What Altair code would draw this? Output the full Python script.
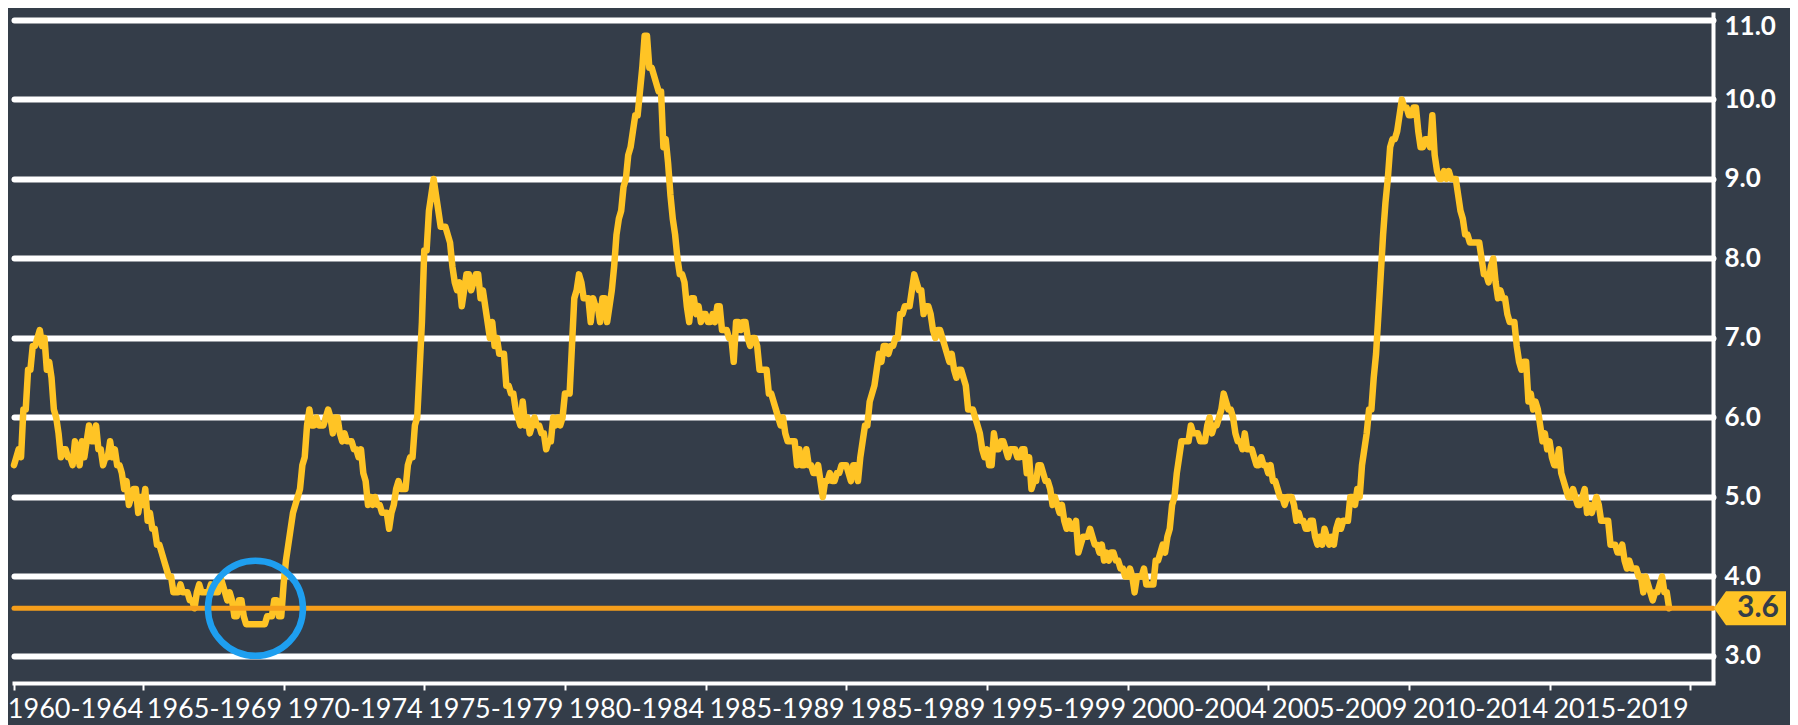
import altair as alt
import pandas as pd

# ---------------- data (US unemployment rate, %, monthly) ----------------
# June 1960 .. December 1969
rate_1960s = [5.4, 5.5, 5.6, 5.5, 6.1, 6.1, 6.6,
              6.6, 6.9, 6.9, 7.0, 7.1, 6.9, 7.0, 6.6, 6.7, 6.5, 6.1, 6.0,
              5.8, 5.5, 5.6, 5.6, 5.5, 5.5, 5.4, 5.7, 5.6, 5.4, 5.7, 5.5,
              5.7, 5.9, 5.7, 5.7, 5.9, 5.6, 5.6, 5.4, 5.5, 5.5, 5.7, 5.5,
              5.6, 5.4, 5.4, 5.3, 5.1, 5.2, 4.9, 5.0, 5.1, 5.1, 4.8, 5.0,
              4.9, 5.1, 4.7, 4.8, 4.6, 4.6, 4.4, 4.4, 4.3, 4.2, 4.1, 4.0,
              4.0, 3.8, 3.8, 3.8, 3.9, 3.8, 3.8, 3.8, 3.7, 3.7, 3.6, 3.8,
              3.9, 3.8, 3.8, 3.8, 3.8, 3.9, 3.8, 3.8, 3.8, 4.0, 3.9, 3.8,
              3.7, 3.8, 3.7, 3.5, 3.5, 3.7, 3.7, 3.5, 3.4, 3.4, 3.4, 3.4,
              3.4, 3.4, 3.4, 3.4, 3.4, 3.5, 3.5, 3.5, 3.7, 3.7, 3.5, 3.5]
rate_1970s = [3.9, 4.2, 4.4, 4.6, 4.8, 4.9, 5.0, 5.1, 5.4, 5.5, 5.9, 6.1,
              5.9, 5.9, 6.0, 5.9, 5.9, 5.9, 6.0, 6.1, 6.0, 5.8, 6.0, 6.0,
              5.8, 5.7, 5.8, 5.7, 5.7, 5.7, 5.6, 5.6, 5.5, 5.6, 5.3, 5.2,
              4.9, 5.0, 4.9, 5.0, 4.9, 4.9, 4.8, 4.8, 4.8, 4.6, 4.8, 4.9,
              5.1, 5.2, 5.1, 5.1, 5.1, 5.4, 5.5, 5.5, 5.9, 6.0, 6.6, 7.2,
              8.1, 8.1, 8.6, 8.8, 9.0, 8.8, 8.6, 8.4, 8.4, 8.4, 8.3, 8.2,
              7.9, 7.7, 7.6, 7.7, 7.4, 7.6, 7.8, 7.8, 7.6, 7.7, 7.8, 7.8,
              7.5, 7.6, 7.4, 7.2, 7.0, 7.2, 6.9, 7.0, 6.8, 6.8, 6.8, 6.4,
              6.4, 6.3, 6.3, 6.1, 6.0, 5.9, 6.2, 5.9, 6.0, 5.8, 5.9, 6.0,
              5.9, 5.9, 5.8, 5.8, 5.6, 5.7, 5.7, 6.0, 5.9, 6.0, 5.9, 6.0]
rate_1980s = [6.3, 6.3, 6.3, 6.9, 7.5, 7.6, 7.8, 7.7, 7.5, 7.5, 7.5, 7.2,
              7.5, 7.4, 7.4, 7.2, 7.5, 7.5, 7.2, 7.4, 7.6, 7.9, 8.3, 8.5,
              8.6, 8.9, 9.0, 9.3, 9.4, 9.6, 9.8, 9.8, 10.1, 10.4, 10.8, 10.8,
              10.4, 10.4, 10.3, 10.2, 10.1, 10.1, 9.4, 9.5, 9.2, 8.8, 8.5, 8.3,
              8.0, 7.8, 7.8, 7.7, 7.4, 7.2, 7.5, 7.5, 7.3, 7.4, 7.2, 7.3,
              7.3, 7.2, 7.2, 7.3, 7.2, 7.4, 7.4, 7.1, 7.1, 7.1, 7.0, 7.0,
              6.7, 7.2, 7.2, 7.1, 7.2, 7.2, 7.0, 6.9, 7.0, 7.0, 6.9, 6.6,
              6.6, 6.6, 6.6, 6.3, 6.3, 6.2, 6.1, 6.0, 5.9, 6.0, 5.8, 5.7,
              5.7, 5.7, 5.7, 5.4, 5.6, 5.4, 5.4, 5.6, 5.4, 5.4, 5.3, 5.3,
              5.4, 5.2, 5.0, 5.2, 5.2, 5.3, 5.2, 5.2, 5.3, 5.3, 5.4, 5.4]
rate_1990s = [5.4, 5.3, 5.2, 5.4, 5.4, 5.2, 5.5, 5.7, 5.9, 5.9, 6.2, 6.3,
              6.4, 6.6, 6.8, 6.7, 6.9, 6.9, 6.8, 6.9, 6.9, 7.0, 7.0, 7.3,
              7.3, 7.4, 7.4, 7.4, 7.6, 7.8, 7.7, 7.6, 7.6, 7.3, 7.4, 7.4,
              7.3, 7.1, 7.0, 7.1, 7.1, 7.0, 6.9, 6.8, 6.7, 6.8, 6.6, 6.5,
              6.6, 6.6, 6.5, 6.4, 6.1, 6.1, 6.1, 6.0, 5.9, 5.8, 5.6, 5.5,
              5.6, 5.4, 5.4, 5.8, 5.6, 5.6, 5.7, 5.7, 5.6, 5.5, 5.6, 5.6,
              5.6, 5.5, 5.5, 5.6, 5.6, 5.3, 5.5, 5.1, 5.2, 5.2, 5.4, 5.4,
              5.3, 5.2, 5.2, 5.1, 4.9, 5.0, 4.9, 4.8, 4.9, 4.7, 4.6, 4.7,
              4.6, 4.6, 4.7, 4.3, 4.4, 4.5, 4.5, 4.5, 4.6, 4.5, 4.4, 4.4,
              4.3, 4.4, 4.2, 4.3, 4.2, 4.3, 4.3, 4.2, 4.2, 4.1, 4.1, 4.0]
rate_2000s = [4.0, 4.1, 4.0, 3.8, 4.0, 4.0, 4.0, 4.1, 3.9, 3.9, 3.9, 3.9,
              4.2, 4.2, 4.3, 4.4, 4.3, 4.5, 4.6, 4.9, 5.0, 5.3, 5.5, 5.7,
              5.7, 5.7, 5.7, 5.9, 5.8, 5.8, 5.8, 5.7, 5.7, 5.7, 5.9, 6.0,
              5.8, 5.9, 5.9, 6.0, 6.1, 6.3, 6.2, 6.1, 6.1, 6.0, 5.8, 5.7,
              5.7, 5.6, 5.8, 5.6, 5.6, 5.6, 5.5, 5.4, 5.4, 5.5, 5.4, 5.4,
              5.3, 5.4, 5.2, 5.2, 5.1, 5.0, 5.0, 4.9, 5.0, 5.0, 5.0, 4.9,
              4.7, 4.8, 4.7, 4.7, 4.6, 4.6, 4.7, 4.7, 4.5, 4.4, 4.5, 4.4,
              4.6, 4.5, 4.4, 4.5, 4.4, 4.6, 4.7, 4.6, 4.7, 4.7, 4.7, 5.0,
              5.0, 4.9, 5.1, 5.0, 5.4, 5.6, 5.8, 6.1, 6.1, 6.5, 6.8, 7.3,
              7.8, 8.3, 8.7, 9.0, 9.4, 9.5, 9.5, 9.6, 9.8, 10.0, 9.9, 9.9]
# January 2010 .. April 2019
rate_2010s = [9.8, 9.8, 9.9, 9.9, 9.6, 9.4, 9.4, 9.5, 9.5, 9.4, 9.8, 9.3,
              9.1, 9.0, 9.0, 9.1, 9.0, 9.1, 9.0, 9.0, 9.0, 8.8, 8.6, 8.5,
              8.3, 8.3, 8.2, 8.2, 8.2, 8.2, 8.2, 8.0, 7.8, 7.8, 7.7, 7.9,
              8.0, 7.7, 7.5, 7.6, 7.5, 7.5, 7.3, 7.2, 7.2, 7.2, 6.9, 6.7,
              6.6, 6.7, 6.7, 6.2, 6.3, 6.1, 6.2, 6.1, 5.9, 5.7, 5.8, 5.6,
              5.7, 5.5, 5.4, 5.4, 5.6, 5.3, 5.2, 5.1, 5.0, 5.0, 5.1, 5.0,
              4.9, 4.9, 5.0, 5.1, 4.8, 4.9, 4.8, 4.9, 5.0, 4.9, 4.7, 4.7,
              4.7, 4.7, 4.4, 4.4, 4.4, 4.3, 4.3, 4.4, 4.2, 4.1, 4.2, 4.1,
              4.1, 4.1, 4.0, 4.0, 3.8, 4.0, 3.9, 3.8, 3.7, 3.8, 3.8, 3.9,
              4.0, 3.8, 3.8, 3.6]

segments = [(1960, 5, rate_1960s), (1970, 0, rate_1970s), (1980, 0, rate_1980s),
            (1990, 0, rate_1990s), (2000, 0, rate_2000s), (2010, 0, rate_2010s)]

period_labels = ["1960-1964", "1965-1969", "1970-1974", "1975-1979", "1980-1984",
                 "1985-1989", "1985-1989", "1995-1999", "2000-2004", "2005-2009",
                 "2010-2014", "2015-2019"]
y_ticks = [3, 4, 5, 6, 7, 8, 9, 10, 11]
current_rate = 3.6
low_year = 1969.0  # trough circled on the chart

# ---------------- build table ----------------
rows = []
for y0, m0, vals in segments:
    for i, v in enumerate(vals):
        rows.append({"t": y0 + (m0 + i) / 12.0, "rate": v})
df = pd.DataFrame(rows)
t_start = float(df["t"].min())
x_ticks = [t_start] + list(range(1965, 2021, 5))

# ---------------- style ----------------
BG = "#343d49"
YELLOW = "#FFC425"
ORANGE = "#F59E1B"
BLUE = "#1E9FF0"
WHITE = "#FFFFFF"
FONT = "Lato"

W, H = 1699, 671
x_scale = alt.Scale(domain=[t_start, 2020.81], nice=False, zero=False)
y_scale = alt.Scale(domain=[2.66, 11.10], nice=False, zero=False)

labels_js = "[" + ",".join("'%s'" % s for s in period_labels) + "]"
x_axis = alt.Axis(
    values=x_ticks, title=None, grid=False,
    labelExpr="datum.value >= 2019.9 ? '' : " + labels_js + "[floor((datum.value - 1960) / 5)]",
    labelFont=FONT, labelFontSize=27, labelColor=WHITE, labelPadding=6,
    labelOffset={"condition": {"test": "datum.value < 1962", "value": 61}, "value": 71},
    labelOverlap=False, labelFlush=False, labelBound=False,
    domainColor=WHITE, domainWidth=4, domainCap="square",
    tickColor=WHITE, tickWidth=2, tickSize=7,
)
y_axis = alt.Axis(
    values=y_ticks, format=".1f", title=None, orient="right",
    labelFont=FONT, labelFontSize=26, labelFontWeight="bold", labelColor=WHITE,
    labelPadding=11,
    labelOffset={"condition": {"test": "datum.value > 10.5", "value": 7}, "value": 0},
    labelOverlap=False, labelFlush=False,
    ticks=False, domainColor=WHITE, domainWidth=4,
    grid=True, gridColor=WHITE, gridWidth=6, gridOpacity=1, gridCap="round",
)

x_enc = alt.X("t:Q", scale=x_scale, axis=x_axis)
y_enc = alt.Y("rate:Q", scale=y_scale, axis=y_axis)

line = alt.Chart(df).mark_line(
    color=YELLOW, strokeWidth=6.5, strokeJoin="round", strokeCap="round"
).encode(x=x_enc, y=y_enc)

ref = pd.DataFrame({"t": [low_year], "rate": [current_rate]})

rule = alt.Chart(ref).mark_rule(
    color=ORANGE, strokeWidth=5, strokeCap="round"
).encode(y=y_enc)

circle = alt.Chart(ref).mark_point(
    shape="circle", size=95 ** 2, filled=False, stroke=BLUE, strokeWidth=6.5, opacity=1
).encode(x=x_enc, y=y_enc)

TAG_PATH = "M -1 0 L -0.667 -0.472 L 1 -0.472 L 1 0.472 L -0.667 0.472 Z"
tag = alt.Chart(ref).mark_point(
    shape=TAG_PATH, size=72 ** 2, filled=True, fill=YELLOW, strokeWidth=0, opacity=1
).encode(x=alt.value(W + 37), y=y_enc)

tag_text = alt.Chart(ref).mark_text(
    font=FONT, fontSize=30, fontWeight="bold", color=BG, align="center", baseline="middle"
).encode(x=alt.value(W + 45), y=y_enc, text=alt.Text("rate:Q", format=".1f"))

chart = alt.layer(line, rule, circle, tag, tag_text).properties(
    width=W, height=H,
    padding={"left": 6, "top": 4, "right": 77, "bottom": 46},
    autosize=alt.AutoSizeParams(type="none"),
    background=BG,
).configure_view(stroke=None)

chart.save("out.html", embed_options={"renderer": "svg", "actions": False})
